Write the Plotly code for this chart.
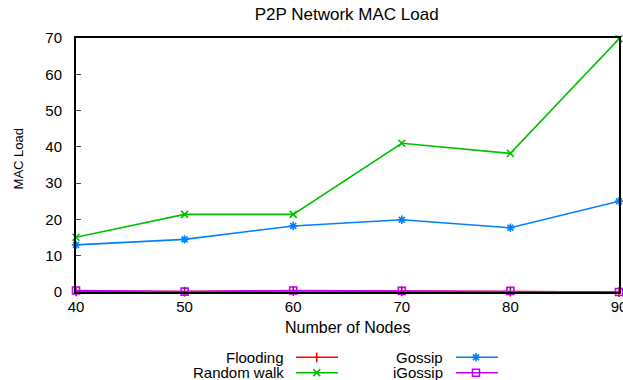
import plotly.graph_objects as go

# Network sizes and measured MAC load per protocol
nodes = [40, 50, 60, 70, 80, 90]
flooding = [0.2, 0.1, 0.3, 0.2, 0.1, 0.0]
random_walk = [15.1, 21.4, 21.4, 41.0, 38.2, 69.8]
gossip = [13.0, 14.5, 18.2, 19.9, 17.7, 25.0]
igossip = [0.4, 0.1, 0.4, 0.3, 0.3, 0.0]

series = [
    ("Flooding", flooding, "#ff0000", "line-ns-open"),
    ("Random walk", random_walk, "#00c000", "x-thin-open"),
    ("Gossip", gossip, "#0080ff", "asterisk-open"),
    ("iGossip", igossip, "#c000ff", "square-open"),
]

FONT = "Liberation Sans, Arial, sans-serif"
LW = 1.6
W, H = 623, 380
M_L, M_R, M_T = 76, 4, 38
PLOT_H = H - M_T  # bottom margin is zero; the key lives on its own axes

fig = go.Figure()
for name, vals, color, sym in series:
    fig.add_trace(go.Scatter(
        x=nodes, y=vals, mode="lines+markers", name=name,
        line=dict(color=color, width=LW),
        marker=dict(symbol=sym, size=7, color=color,
                    line=dict(color=color, width=LW)),
        showlegend=False, cliponaxis=False,
    ))

# Key under the chart (own hidden axes): label left, sample line right
key_rows = [0.332, 0.107]
key_cols = [(0.3867, 0.4052, 0.4433, 0.4825), (0.6796, 0.6998, 0.7366, 0.7772)]
for i, (name, vals, color, sym) in enumerate(series):
    tx, x0, xm, x1 = key_cols[i // 2]
    ky = key_rows[i % 2]
    fig.add_annotation(
        x=tx, y=ky, xref="x2", yref="y2", text=name,
        showarrow=False, xanchor="right", yanchor="middle",
        font=dict(family=FONT, size=15, color="#000000"),
    )
    fig.add_trace(go.Scatter(
        x=[x0, xm, x1], y=[ky, ky, ky], xaxis="x2", yaxis="y2",
        mode="lines", line=dict(color=color, width=LW),
        showlegend=False, hoverinfo="skip",
    ))
    fig.add_trace(go.Scatter(
        x=[xm], y=[ky], xaxis="x2", yaxis="y2", mode="markers",
        marker=dict(symbol=sym, size=7, color=color,
                    line=dict(color=color, width=LW)),
        showlegend=False, hoverinfo="skip",
    ))

# Axis titles
fig.add_annotation(
    x=0.5, y=(H - 327) / PLOT_H, xref="paper", yref="paper",
    text="Number of Nodes", showarrow=False,
    xanchor="center", yanchor="middle",
    font=dict(family=FONT, size=16, color="#000000"),
)
fig.add_annotation(
    x=-0.106, y=(H - 159) / PLOT_H, xref="paper", yref="paper",
    text="MAC Load", textangle=-90, showarrow=False,
    xanchor="center", yanchor="middle",
    font=dict(family=FONT, size=13, color="#000000"),
)

fig.update_layout(
    width=W, height=H,
    margin=dict(l=M_L, r=M_R, t=M_T, b=0, autoexpand=False),
    paper_bgcolor="white", plot_bgcolor="rgba(0,0,0,0)",
    font=dict(family=FONT, size=15, color="#000000"),
    title=dict(text="P2P Network MAC Load", x=0.5565, xanchor="center",
               y=0.963, yanchor="middle", font=dict(size=17)),
    xaxis=dict(
        range=[40, 90], tickvals=nodes, ticks="inside", ticklen=5,
        showline=True, linecolor="black", linewidth=2, mirror=True,
        showgrid=False, zeroline=False, ticklabeloverflow="allow",
        domain=[0, 1], anchor="y", automargin=False,
    ),
    yaxis=dict(
        range=[0, 70], dtick=10, ticks="inside", ticklen=5,
        showline=True, linecolor="black", linewidth=2, mirror=True,
        showgrid=False, zeroline=False, ticklabelstandoff=9,
        domain=[(H - 292) / PLOT_H, 1], anchor="x", automargin=False,
    ),
    xaxis2=dict(domain=[0, 1], range=[0, 1], visible=False, anchor="y2",
                automargin=False),
    yaxis2=dict(domain=[0, 0.2], range=[0, 1], visible=False, anchor="x2",
                automargin=False),
)

fig.write_html("out.html")
